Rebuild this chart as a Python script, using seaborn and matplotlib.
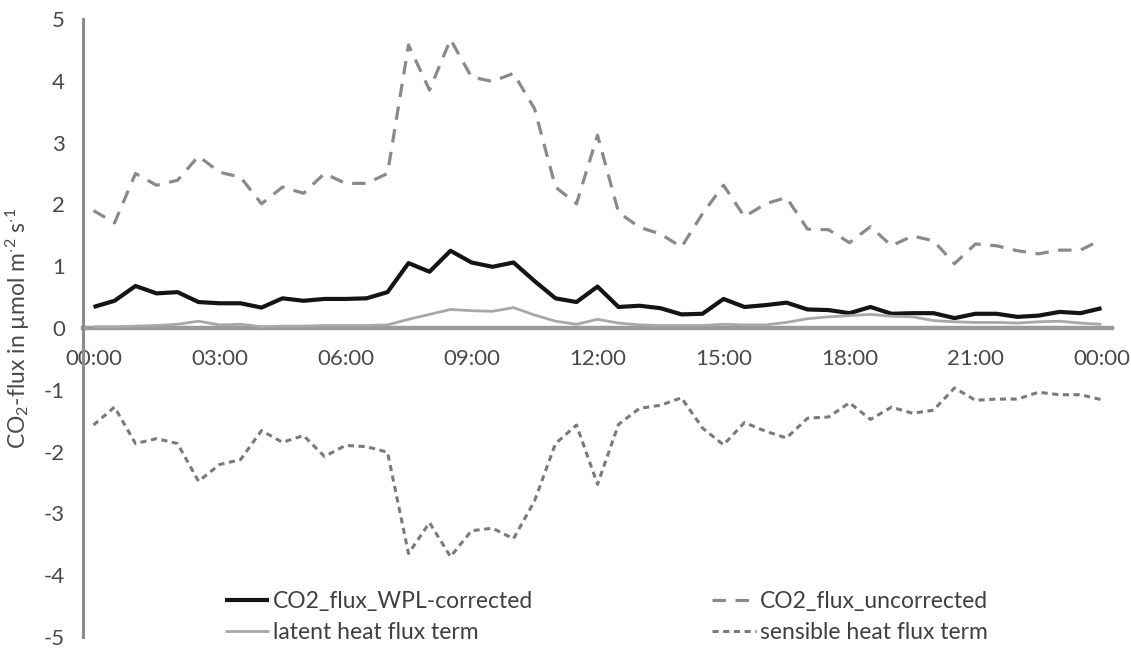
import numpy as np
import pandas as pd
import matplotlib
matplotlib.use("Agg")
import matplotlib.pyplot as plt
import seaborn as sns

# ---- data (half-hourly, 00:00 .. 00:00) ----
time_labels = ["00:00", "03:00", "06:00", "09:00", "12:00", "15:00", "18:00", "21:00", "00:00"]

co2_wpl_corrected = [0.34, 0.44, 0.68, 0.56, 0.58, 0.42, 0.40, 0.40, 0.33, 0.48,
                     0.44, 0.47, 0.47, 0.48, 0.58, 1.05, 0.91, 1.25, 1.06, 0.99,
                     1.06, 0.76, 0.48, 0.42, 0.67, 0.34, 0.36, 0.32, 0.22, 0.23,
                     0.47, 0.34, 0.37, 0.41, 0.30, 0.29, 0.24, 0.34, 0.23, 0.24,
                     0.24, 0.16, 0.23, 0.23, 0.18, 0.20, 0.26, 0.24, 0.32]

co2_uncorrected = [1.90, 1.70, 2.50, 2.31, 2.39, 2.78, 2.52, 2.44, 2.01, 2.28,
                   2.18, 2.50, 2.34, 2.34, 2.50, 4.58, 3.85, 4.67, 4.06, 3.99,
                   4.12, 3.55, 2.28, 2.01, 3.12, 1.87, 1.63, 1.52, 1.31, 1.85,
                   2.31, 1.80, 2.01, 2.11, 1.60, 1.59, 1.38, 1.64, 1.33, 1.49,
                   1.41, 1.04, 1.36, 1.33, 1.25, 1.20, 1.26, 1.26, 1.43]

latent_term = [0.02, 0.02, 0.03, 0.04, 0.06, 0.11, 0.05, 0.06, 0.02, 0.03,
               0.03, 0.04, 0.04, 0.04, 0.05, 0.14, 0.22, 0.30, 0.28, 0.27,
               0.33, 0.21, 0.11, 0.06, 0.14, 0.08, 0.05, 0.04, 0.04, 0.04,
               0.06, 0.05, 0.05, 0.09, 0.15, 0.18, 0.20, 0.22, 0.19, 0.18,
               0.12, 0.10, 0.09, 0.09, 0.08, 0.10, 0.11, 0.08, 0.06]

sensible_term = [-1.57, -1.28, -1.87, -1.79, -1.87, -2.48, -2.21, -2.13, -1.66, -1.85,
                 -1.74, -2.08, -1.90, -1.92, -2.01, -3.65, -3.15, -3.70, -3.28, -3.24,
                 -3.41, -2.80, -1.87, -1.57, -2.53, -1.56, -1.30, -1.25, -1.13, -1.62,
                 -1.89, -1.53, -1.67, -1.78, -1.46, -1.44, -1.21, -1.48, -1.28, -1.38,
                 -1.33, -0.97, -1.17, -1.15, -1.15, -1.04, -1.08, -1.08, -1.16]

series_names = ["CO2_flux_WPL-corrected", "CO2_flux_uncorrected",
                "latent heat flux term", "sensible heat flux term"]

n = len(co2_wpl_corrected)
idx = np.arange(n)
df = pd.DataFrame({
    "slot": np.tile(idx, 4),
    "value": np.concatenate([co2_wpl_corrected, co2_uncorrected, latent_term, sensible_term]),
    "series": np.repeat(series_names, n),
})

# ---- style ----
sns.set_style("white")
plt.rcParams["font.family"] = ["Lato", "DejaVu Sans"]
plt.rcParams["mathtext.fontset"] = "custom"
plt.rcParams["mathtext.rm"] = "Lato"
plt.rcParams["mathtext.it"] = "Lato"

fig = plt.figure(figsize=(11.31, 6.52), dpi=100)
ax = fig.add_axes([0.0734, 0.023, 0.9098, 0.9479])

styles = {
    "CO2_flux_WPL-corrected": dict(color="#141414", lw=3.0, dashes=None),
    "CO2_flux_uncorrected": dict(color="#8a8a8a", lw=2.3, dashes=(4.2, 3.0)),
    "latent heat flux term": dict(color="#a8a8a8", lw=2.0, dashes=None),
    "sensible heat flux term": dict(color="#7a7a7a", lw=2.2, dashes=(2.0, 1.5)),
}

for name in series_names:
    st = styles[name]
    sub = df[df["series"] == name]
    sns.lineplot(data=sub, x="slot", y="value", ax=ax, color=st["color"],
                 linewidth=st["lw"], label=name, legend=False)
    line = ax.get_lines()[-1]
    if st["dashes"] is not None:
        line.set_dashes(st["dashes"])
    line.set_solid_capstyle("butt")

ax.set_xlim(-0.5, n - 0.5)
ax.set_ylim(-5, 5)

# spines
for s in ["top", "right"]:
    ax.spines[s].set_visible(False)
ax.spines["left"].set_color("#8c8c8c")
ax.spines["left"].set_linewidth(2.2)
ax.spines["bottom"].set_position(("data", 0))
ax.spines["bottom"].set_color("#9a9a9a")
ax.spines["bottom"].set_linewidth(3.2)
ax.spines["bottom"].set_zorder(1)

# y ticks
ax.set_yticks(np.arange(-5, 6, 1))
ax.set_yticklabels([str(v) for v in range(-5, 6)])
ax.tick_params(axis="y", direction="out", length=5, width=2.2, color="#8c8c8c",
               labelsize=16, labelcolor="#4a4a4a", pad=8)

# x ticks: labels at categories, marks between categories
ax.set_xticks(np.arange(0, n, 6))
ax.set_xticklabels(time_labels)
ax.set_xticks(np.arange(5.5, n - 0.5, 6), minor=True)
ax.tick_params(axis="x", which="major", length=0, labelsize=16, labelcolor="#4a4a4a", pad=15)
ax.tick_params(axis="x", which="minor", direction="out", length=6, width=2.2, color="#9a9a9a")
ax.set_xlabel("")

ax.set_ylabel(r"CO$_2$-flux in µmol m$^{\cdot2}$ s$^{\cdot1}$", fontsize=16.5, color="#4a4a4a")
ax.yaxis.set_label_coords(-0.05, 0.5)

# legend in row order: WPL, uncorrected / latent, sensible
handles, labels = ax.get_legend_handles_labels()
order = [0, 2, 1, 3]
leg = fig.legend([handles[i] for i in order], [labels[i] for i in order], ncol=2,
                 loc="center", bbox_to_anchor=(0.536, 0.054),
                 frameon=False, fontsize=16.5, handlelength=1.95, handletextpad=0.15,
                 columnspacing=7.8, labelspacing=0.45, borderpad=0)
for t in leg.get_texts():
    t.set_color("#404040")

fig.savefig("out.png", dpi=100)
